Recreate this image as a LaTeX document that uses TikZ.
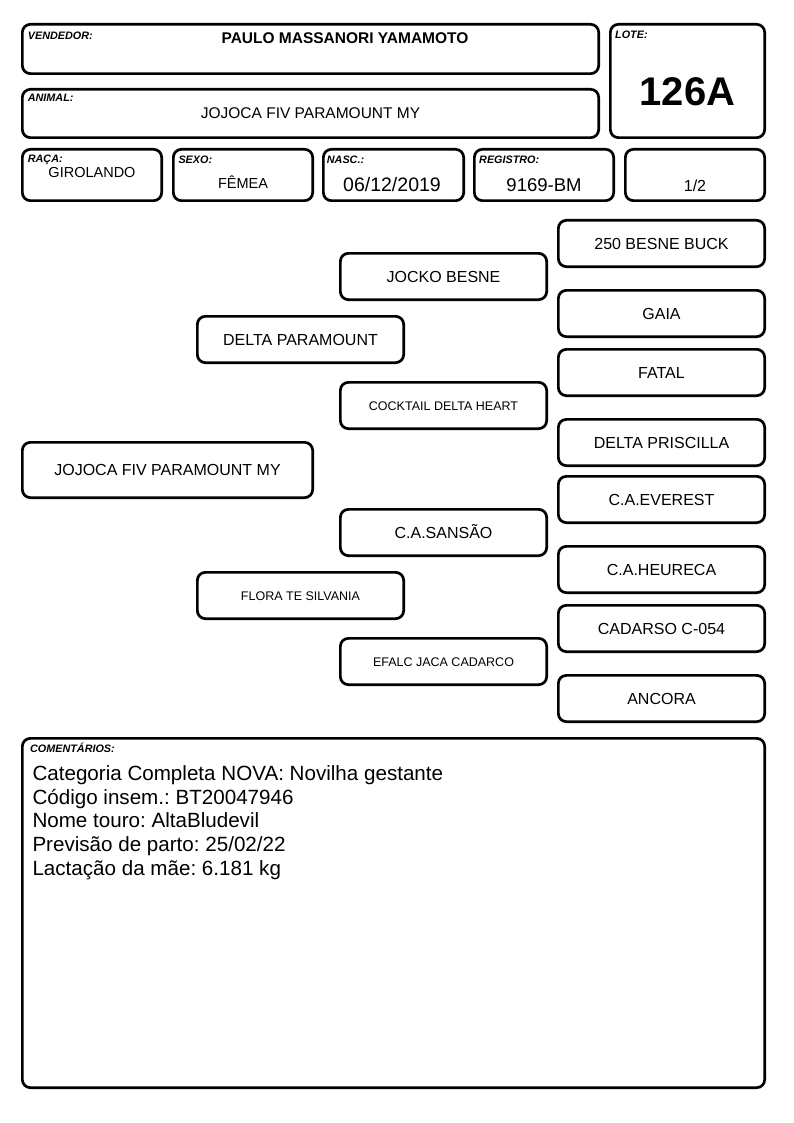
\documentclass[tikz,border=0pt]{standalone}
\usepackage{fontspec}
\setmainfont{Liberation Sans}
\newcommand\fsz[1]{\fontsize{#1}{#1}\selectfont}
\frenchspacing
\begin{document}
\begin{tikzpicture}[x=1pt,y=-1pt,
  box/.style={draw, line width=2.7pt, rounded corners=8pt, inner sep=0pt},
  ped/.style={box, minimum width=206.3pt, minimum height=46.3pt, font=\fsz{16}, text height=11.5pt, text depth=0pt},
  pedsm/.style={ped, font=\fsz{12.5}, text height=9pt},
  lab/.style={anchor=base west, inner sep=0pt, font=\fsz{10.8}\bfseries\itshape},
  val/.style={anchor=base, inner sep=0pt},
  cmt/.style={anchor=base west, inner sep=0pt, font=\fsz{20.6}},
]
\fill[white] (0,0) rectangle (794,1123);
\useasboundingbox (0,0) rectangle (794,1123);

% header boxes
\node[box, minimum width=576.3pt, minimum height=49.3pt] (vend) at (310.5,49) {};
\node[box, minimum width=154.3pt, minimum height=113.3pt] (lote) at (687.5,81) {};
\node[box, minimum width=576.3pt, minimum height=48.3pt] (animal) at (310.5,113.5) {};
\node[box, minimum width=139.3pt, minimum height=51.3pt] (raca) at (92,175) {};
\node[box, minimum width=139.3pt, minimum height=51.3pt] (sexo) at (243,175) {};
\node[box, minimum width=140.3pt, minimum height=51.3pt] (nasc) at (393.5,175) {};
\node[box, minimum width=139.3pt, minimum height=51.3pt] (reg) at (544,175) {};
\node[box, minimum width=139.3pt, minimum height=51.3pt] (frac) at (695,175) {};

% labels
\node[lab] (lvend) at (27.7,39.3) {VENDEDOR:};
\node[lab] (llote) at (615,39) {LOTE:};
\node[lab] (lanimal) at (27.7,102) {ANIMAL:};
\node[lab] (lraca) at (27.7,162.5) {RAÇA:};
\node[lab] (lsexo) at (178.3,164) {SEXO:};
\node[lab] (lnasc) at (326.7,164) {NASC.:};
\node[lab] (lreg) at (479,164) {REGISTRO:};

% values
\node[val, font=\fsz{15.5}\bfseries] (tvend) at (345,43.3) {PAULO MASSANORI YAMAMOTO};
\node[val, font=\fsz{40}\bfseries] (tlote) at (687.5,105.7) {126A};
\node[val, font=\fsz{15.5}] (tanimal) at (310.5,118.3) {JOJOCA FIV PARAMOUNT MY};
\node[val, font=\fsz{14.5}] (traca) at (92,177.7) {GIROLANDO};
\node[val, font=\fsz{14.5}] (tsexo) at (243,189) {FÊMEA};
\node[val, font=\fsz{19.5}] (tnasc) at (392,191.7) {06/12/2019};
\node[val, font=\fsz{18.5}] (treg) at (544,191.7) {9169-BM};
\node[val, font=\fsz{16}] (tfrac) at (695,192) {1/2};

% pedigree
\node[ped, minimum width=290.3pt, minimum height=55.3pt] (p) at (167.5,470) {JOJOCA FIV PARAMOUNT MY};
\node[ped] (s) at (300.5,339.5) {DELTA PARAMOUNT};
\node[pedsm] (d) at (300.5,595.5) {FLORA TE SILVANIA};
\node[ped] (ss) at (443.5,276.5) {JOCKO BESNE};
\node[pedsm] (sd) at (443.5,405.5) {COCKTAIL DELTA HEART};
\node[ped] (ds) at (443.5,532.5) {C.A.SANSÃO};
\node[pedsm] (dd) at (443.5,661.5) {EFALC JACA CADARCO};
\node[ped] (sss) at (661.5,243.5) {250 BESNE BUCK};
\node[ped] (ssd) at (661.5,313.5) {GAIA};
\node[ped] (sds) at (661.5,372.5) {FATAL};
\node[ped] (sdd) at (661.5,442.5) {DELTA PRISCILLA};
\node[ped] (dss) at (661.5,499.5) {C.A.EVEREST};
\node[ped] (dsd) at (661.5,569.5) {C.A.HEURECA};
\node[ped] (dds) at (661.5,628.5) {CADARSO C-054};
\node[ped] (ddd) at (661.5,698.5) {ANCORA};

% comments
\node[box, minimum width=742.3pt, minimum height=349.3pt] (com) at (393.5,913) {};
\node[lab] (lcom) at (30,752.7) {COMENTÁRIOS:};
\node[cmt] (c1) at (32.3,780.7) {Categoria Completa NOVA: Novilha gestante};
\node[cmt] (c2) at (32.3,804.3) {Código insem.: BT20047946};
\node[cmt] (c3) at (32.3,827.9) {Nome touro: AltaBludevil};
\node[cmt] (c4) at (32.3,851.5) {Previsão de parto: 25/02/22};
\node[cmt] (c5) at (32.3,875.1) {Lactação da mãe: 6.181 kg};
\end{tikzpicture}
\end{document}
